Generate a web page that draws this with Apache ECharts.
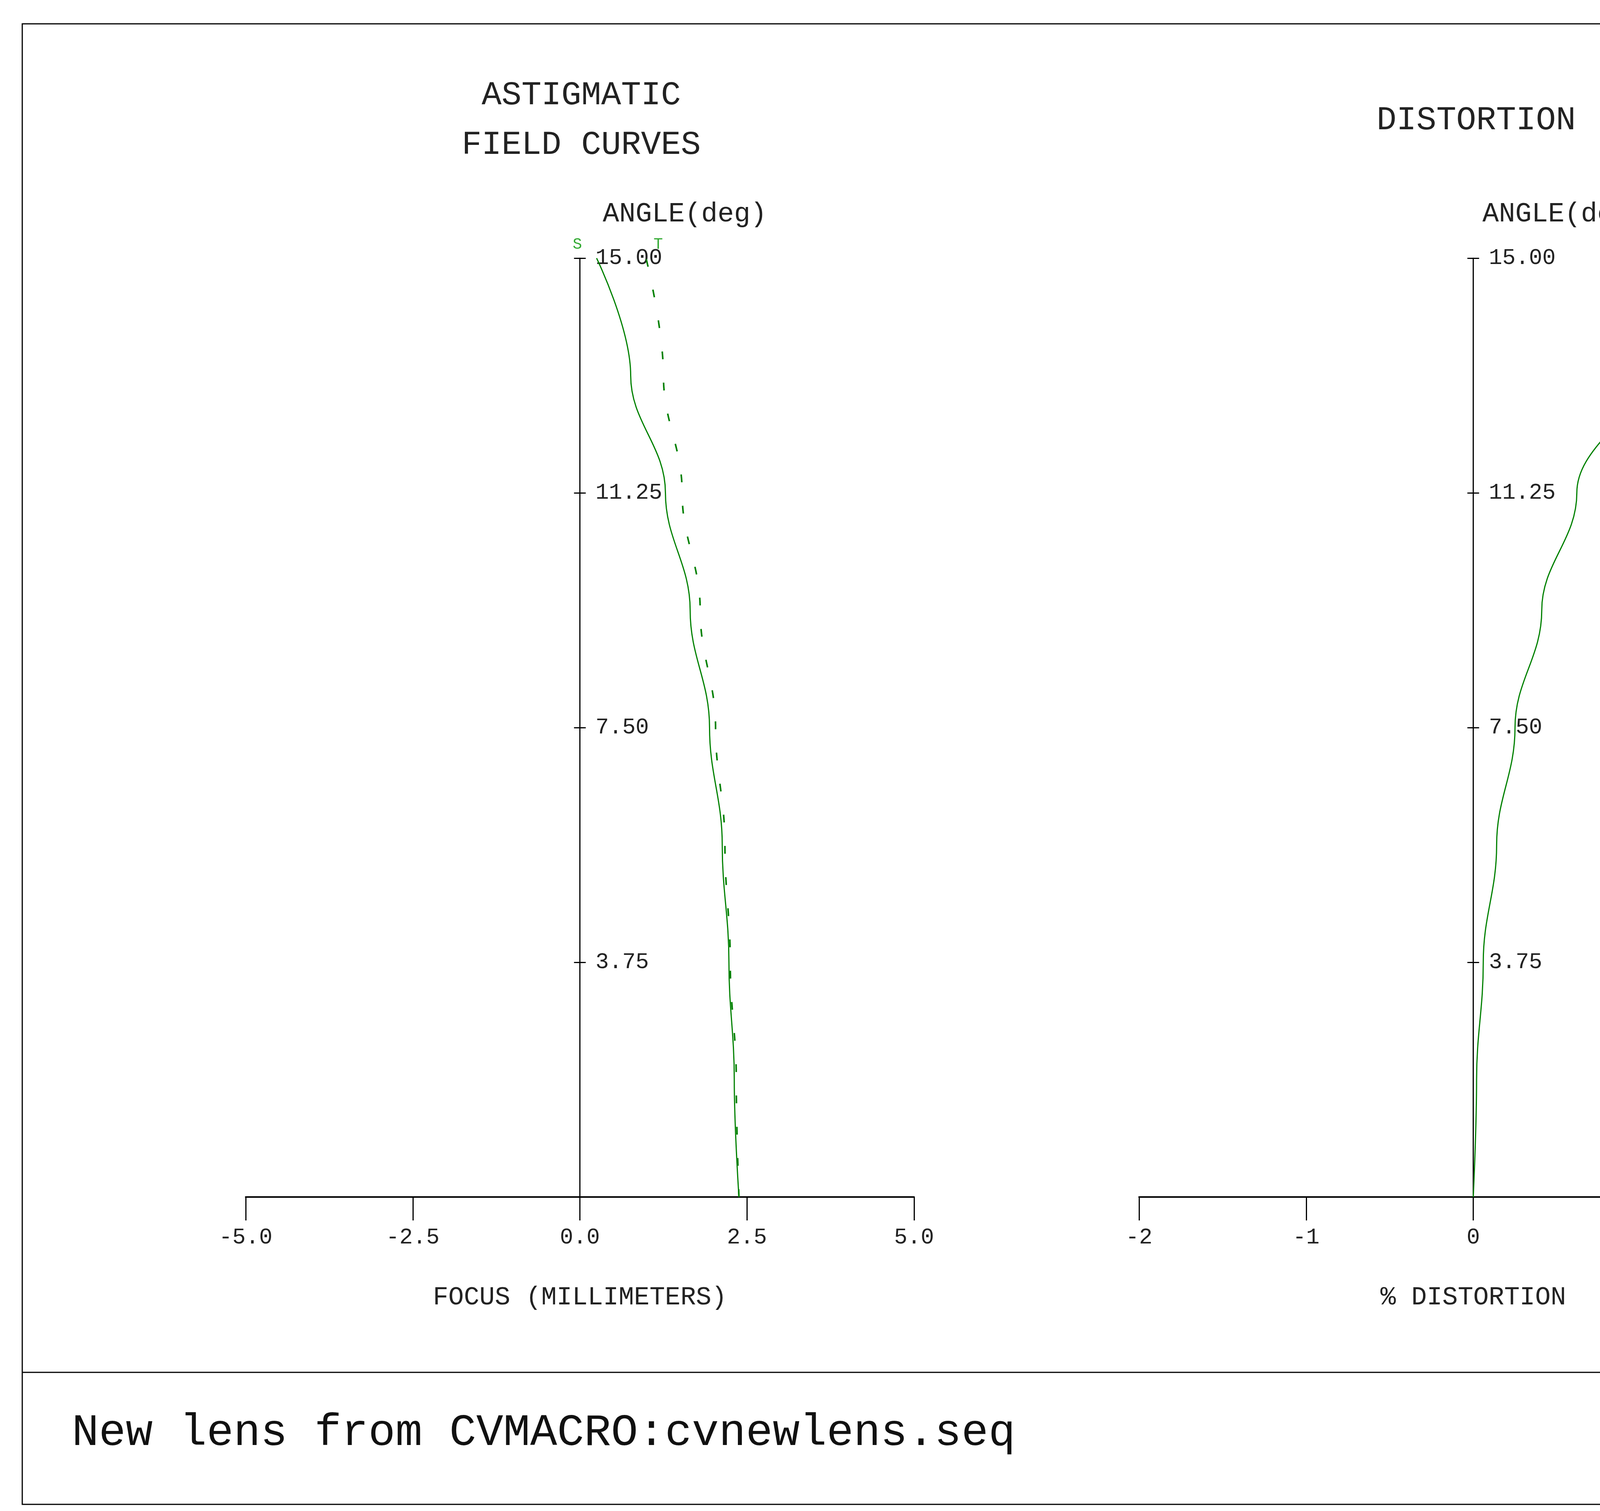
<!DOCTYPE html>
<html><head><meta charset="utf-8">
<script src="https://cdn.jsdelivr.net/npm/echarts@6/dist/echarts.min.js"></script>
<style>html,body{margin:0;padding:0;background:#fff}#c{width:5533px;height:3869px}</style>
</head><body><div id="c"></div>
<script>
const angles = [0, 1.875, 3.75, 5.625, 7.5, 9.375, 11.25, 13.125, 15];
const sagittal = [2.38, 2.31, 2.23, 2.13, 1.94, 1.65, 1.28, 0.76, 0.25];
const tangential = [2.38, 2.34, 2.25, 2.17, 2.03, 1.80, 1.53, 1.25, 0.99];
const distortion = [0, 0.02, 0.06, 0.14, 0.25, 0.41, 0.62, 0.98, 1.37];
const focusTicks = [-5, 5, 2.5];
const distTicks = [-2, 2, 1];
const angleTicks = [0, 15, 3.75];

const F = 'Liberation Mono';
const G = '#008000';
const GW = 1711;
const chart = echarts.init(document.getElementById('c'));
const pair = (xs) => angles.map((a, i) => [xs[i], a]);
function yAx(grid, inside, labels) {
  return {type:'value', gridIndex:grid, position:'left', offset:-GW/2, min:angleTicks[0], max:angleTicks[1], interval:angleTicks[2],
    axisLine:{show:labels, onZero:false, lineStyle:{color:'#000', width:3}},
    axisTick:{show:true, inside:inside, length:15, lineStyle:{color:'#000', width:3}},
    splitLine:{show:false},
    axisLabel:{show:labels, inside:true, margin:40, showMinLabel:false, fontFamily:F, fontSize:57, color:'#222',
      formatter: v => v.toFixed(2)}};
}
function xAx(grid, t, dec, name) {
  return {type:'value', gridIndex:grid, min:t[0], max:t[1], interval:t[2],
    axisLine:{onZero:false, lineStyle:{color:'#000', width:4}},
    axisTick:{length:60, lineStyle:{color:'#000', width:3}},
    splitLine:{show:false},
    axisLabel:{margin:75, fontFamily:F, fontSize:57, color:'#222', formatter: v => v.toFixed(dec)},
    name:name, nameLocation:'middle', nameGap:225, nameTextStyle:{fontFamily:F, fontSize:66, color:'#222'}};
}
const lineS = {type:'line', smooth:0.4, smoothMonotone:'y', showSymbol:false};
chart.setOption({
  animation:false,
  backgroundColor:'#fff',
  grid:[{left:629, width:GW, top:661, height:2404},{left:2916, width:GW, top:661, height:2404}],
  xAxis:[xAx(0, focusTicks, 1, 'FOCUS (MILLIMETERS)'), xAx(1, distTicks, 0, '% DISTORTION')],
  yAxis:[yAx(0,false,true), yAx(0,true,false), yAx(1,false,true), yAx(1,true,false)],
  series:[
    Object.assign({xAxisIndex:0, yAxisIndex:0, data:pair(sagittal), lineStyle:{color:G, width:3}}, lineS),
    Object.assign({xAxisIndex:0, yAxisIndex:0, data:pair(tangential), lineStyle:{color:G, width:4, type:[20,60]}}, lineS),
    Object.assign({xAxisIndex:1, yAxisIndex:2, data:pair(distortion), lineStyle:{color:G, width:3}}, lineS)
  ],
  graphic:[
    {type:'rect', shape:{x:57, y:61, width:5198, height:3791}, style:{fill:'none', stroke:'#000', lineWidth:3}},
    {type:'line', shape:{x1:57, y1:3514, x2:5255, y2:3514}, style:{stroke:'#000', lineWidth:3}},
    {type:'text', x:1488, y:244, style:{text:'ASTIGMATIC', font:'85px "Liberation Mono"', fill:'#222', align:'center', verticalAlign:'middle'}},
    {type:'text', x:1488, y:371, style:{text:'FIELD CURVES', font:'85px "Liberation Mono"', fill:'#222', align:'center', verticalAlign:'middle'}},
    {type:'text', x:3779, y:308, style:{text:'DISTORTION', font:'85px "Liberation Mono"', fill:'#222', align:'center', verticalAlign:'middle'}},
    {type:'text', x:1543, y:548, style:{text:'ANGLE(deg)', font:'70px "Liberation Mono"', fill:'#222', verticalAlign:'middle'}},
    {type:'text', x:3795, y:548, style:{text:'ANGLE(deg)', font:'70px "Liberation Mono"', fill:'#222', verticalAlign:'middle'}},
    {type:'text', x:1478, y:626, style:{text:'S', font:'40px "Liberation Mono"', fill:'#3a3', align:'center', verticalAlign:'middle'}},
    {type:'text', x:1685, y:626, style:{text:'T', font:'40px "Liberation Mono"', fill:'#3a3', align:'center', verticalAlign:'middle'}},
    {type:'text', x:184, y:3670, style:{text:'New lens from CVMACRO:cvnewlens.seq', font:'115px "Liberation Mono"', fill:'#111', verticalAlign:'middle'}},
    {type:'text', x:5066, y:3688, style:{text:'03-Apr-15', font:'90px "Liberation Mono"', fill:'#222', align:'right', verticalAlign:'middle'}}
  ]
});
</script></body></html>
